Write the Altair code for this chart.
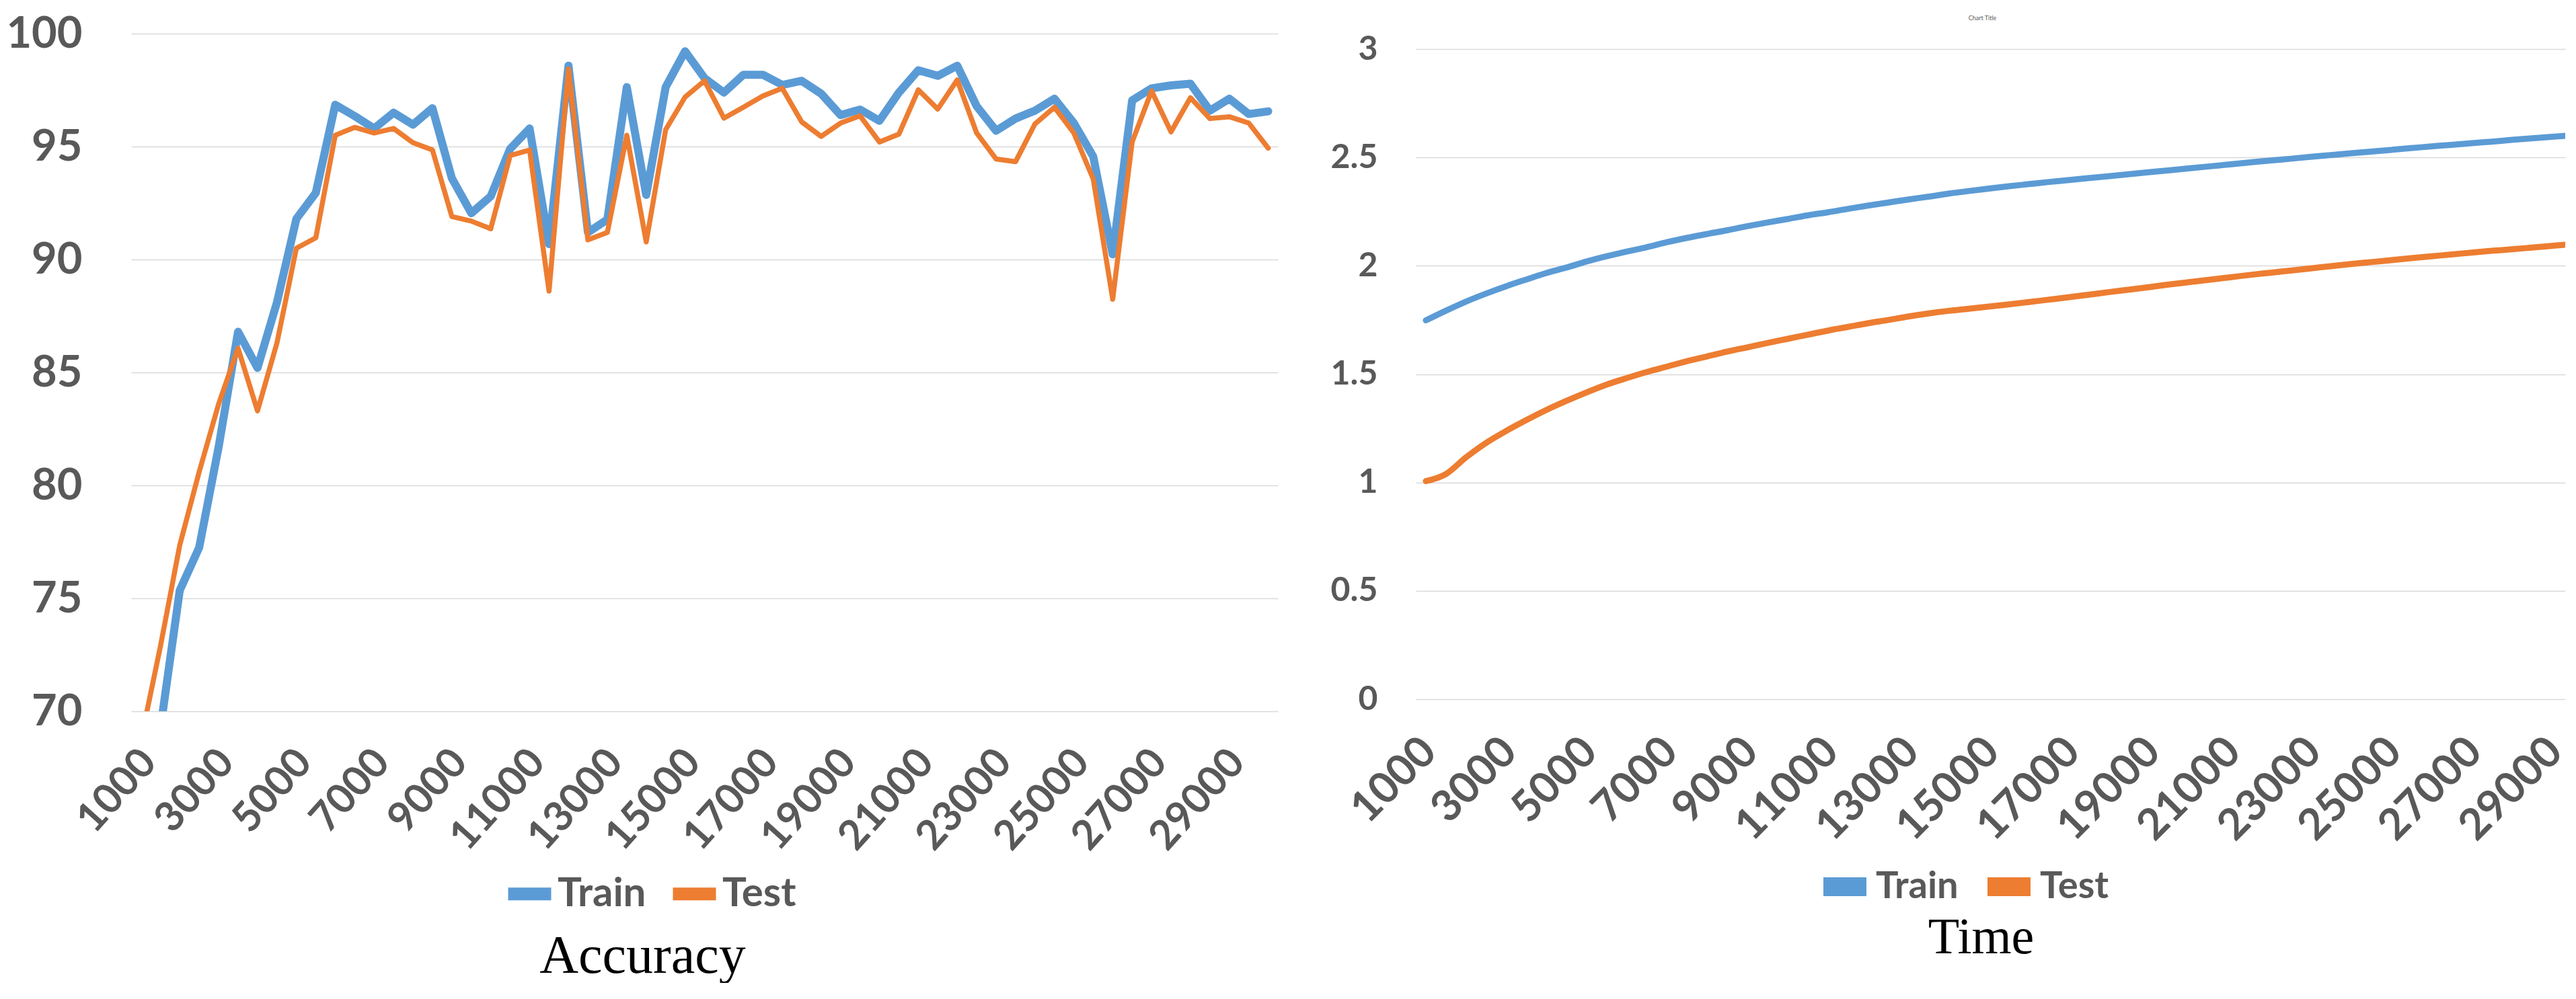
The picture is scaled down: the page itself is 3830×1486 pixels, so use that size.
import altair as alt
import pandas as pd

# ---------------- data ----------------
steps = [1000, 1500, 2000, 2500, 3000, 3500, 4000, 4500, 5000, 5500,
         6000, 6500, 7000, 7500, 8000, 8500, 9000, 9500, 10000, 10500,
         11000, 11500, 12000, 12500, 13000, 13500, 14000, 14500, 15000, 15500,
         16000, 16500, 17000, 17500, 18000, 18500, 19000, 19500, 20000, 20500,
         21000, 21500, 22000, 22500, 23000, 23500, 24000, 24500, 25000, 25500,
         26000, 26500, 27000, 27500, 28000, 28500, 29000, 29500, 30000]

tick_labels = [1000, 3000, 5000, 7000, 9000, 11000, 13000, 15000,
               17000, 19000, 21000, 23000, 25000, 27000, 29000]

series_names = ["Train", "Test"]

acc_train = [66.0, 69.2, 75.35, 77.25, 81.7, 86.8, 85.2, 88.1, 91.8, 92.95,
             96.85, 96.35, 95.8, 96.5, 95.97, 96.7, 93.6, 92.05, 92.8, 94.9,
             95.8, 90.68, 98.58, 91.2, 91.77, 97.63, 92.86, 97.63, 99.22, 98.03,
             97.39, 98.18, 98.18, 97.73, 97.91, 97.34, 96.39, 96.64, 96.14, 97.39,
             98.38, 98.13, 98.58, 96.79, 95.7, 96.24, 96.59, 97.12, 96.04, 94.55,
             90.23, 97.04, 97.58, 97.71, 97.78, 96.59, 97.12, 96.44, 96.56]

acc_test = [68.7, 72.85, 77.35, 80.6, 83.6, 86.07, 83.3, 86.3, 90.5, 90.96,
            95.5, 95.85, 95.6, 95.8, 95.17, 94.85, 91.9, 91.7, 91.36, 94.6,
            94.85, 88.6, 98.43, 90.87, 91.2, 95.5, 90.78, 95.75, 97.19, 97.91,
            96.26, 96.74, 97.24, 97.58, 96.09, 95.45, 96.04, 96.36, 95.2, 95.55,
            97.51, 96.66, 97.95, 95.6, 94.45, 94.33, 96.0, 96.74, 95.6, 93.56,
            88.24, 95.2, 97.46, 95.65, 97.16, 96.24, 96.32, 96.04, 94.93]

time_train = [1.748, 1.793, 1.835, 1.872, 1.906, 1.937, 1.967, 1.992, 2.02, 2.044,
              2.066, 2.086, 2.109, 2.129, 2.147, 2.164, 2.183, 2.2, 2.216, 2.233,
              2.247, 2.263, 2.278, 2.292, 2.306, 2.319, 2.333, 2.345, 2.356, 2.367,
              2.377, 2.387, 2.396, 2.405, 2.414, 2.423, 2.432, 2.441, 2.45, 2.459,
              2.468, 2.477, 2.486, 2.494, 2.503, 2.511, 2.519, 2.527, 2.535, 2.543,
              2.551, 2.558, 2.566, 2.573, 2.581, 2.588, 2.595, 2.602, 2.609]

time_test = [1.006, 1.039, 1.116, 1.183, 1.238, 1.288, 1.335, 1.377, 1.416, 1.452,
             1.482, 1.51, 1.535, 1.56, 1.582, 1.604, 1.624, 1.644, 1.663, 1.682,
             1.701, 1.718, 1.735, 1.75, 1.766, 1.78, 1.792, 1.802, 1.812, 1.822,
             1.833, 1.844, 1.855, 1.867, 1.879, 1.89, 1.902, 1.914, 1.925, 1.936,
             1.947, 1.958, 1.968, 1.978, 1.988, 1.998, 2.008, 2.017, 2.026, 2.035,
             2.044, 2.052, 2.061, 2.069, 2.076, 2.084, 2.092, 2.1, 2.108]

acc_ticks = [70, 75, 80, 85, 90, 95, 100]
time_ticks = [0, 0.5, 1, 1.5, 2, 2.5, 3]

# ---------------- styling ----------------
BLUE = "#5B9BD5"
ORANGE = "#ED7D31"
GRID = "#D9D9D9"
LABEL = "#595959"
FONT = "Lato"
SERIF = "Liberation Serif"

n = len(steps)
acc_df = pd.DataFrame({
    "step": steps + steps,
    "value": acc_train + acc_test,
    "series": ["Train"] * n + ["Test"] * n,
})
time_df = pd.DataFrame({
    "step": steps + steps,
    "value": time_train + time_test,
    "series": ["Train"] * n + ["Test"] * n,
})

color_scale = alt.Scale(domain=series_names, range=[BLUE, ORANGE])

# ---------------- left: Accuracy ----------------
acc_base = alt.Chart(acc_df).mark_line(clip=True, strokeJoin="round", strokeCap="round").encode(
    x=alt.X("step:Q",
            scale=alt.Scale(domain=[750, 30250], nice=False, zero=False),
            axis=alt.Axis(values=tick_labels, format="d", labelAngle=-48,
                          labelAlign="right", labelBaseline="middle",
                          labelFont=FONT, labelFontSize=61, labelFontWeight="bold",
                          labelColor=LABEL, labelPadding=66, labelOffset=12,
                          labelOverlap=False, labelFlush=False, labelLimit=500,
                          grid=False, ticks=False, domain=False,
                          title="Accuracy", titleFont=SERIF, titleFontSize=80,
                          titleFontWeight="normal", titleColor="black",
                          titleX=760, titleY=388, titleAlign="center",
                          titleBaseline="alphabetic", titleAnchor="start")),
    y=alt.Y("value:Q",
            scale=alt.Scale(domain=[70, 100], nice=False, zero=False),
            axis=alt.Axis(values=acc_ticks, labelFont=FONT, labelFontSize=65,
                          labelFontWeight="bold", labelColor=LABEL, labelPadding=73,
                          grid=True, gridColor=GRID, gridWidth=1.5,
                          ticks=False, domain=False, title=None)),
    color=alt.Color("series:N", scale=color_scale,
                    legend=alt.Legend(orient="none", legendX=551, legendY=1238,
                                      direction="horizontal", title=None,
                                      symbolType="stroke", symbolSize=64 * 64,
                                      symbolStrokeWidth=19, labelFont=FONT,
                                      labelFontSize=60, labelFontWeight="bold",
                                      labelColor=LABEL, labelOffset=0,
                                      columnPadding=1, padding=0)),
)
left = alt.layer(
    acc_base.transform_filter(alt.datum.series == "Train").encode(strokeWidth=alt.value(12)),
    acc_base.transform_filter(alt.datum.series == "Test").encode(strokeWidth=alt.value(7.5)),
).properties(width=1705, height=1008)

# ---------------- right: Time ----------------
time_base = alt.Chart(time_df).mark_line(clip=True, interpolate="monotone",
                                         strokeCap="round", strokeJoin="round").encode(
    x=alt.X("step:Q",
            scale=alt.Scale(domain=[750, 29330], nice=False, zero=False),
            axis=alt.Axis(values=tick_labels, format="d", labelAngle=-45,
                          labelAlign="right", labelBaseline="middle",
                          labelFont=FONT, labelFontSize=64, labelFontWeight="bold",
                          labelColor=LABEL, labelPadding=68, labelOffset=5,
                          labelOverlap=False, labelFlush=False, labelLimit=500,
                          grid=False, ticks=False, domain=False,
                          title="Time", titleFont=SERIF, titleFontSize=76,
                          titleFontWeight="normal", titleColor="black",
                          titleX=840, titleY=377, titleAlign="center",
                          titleBaseline="alphabetic", titleAnchor="start")),
    y=alt.Y("value:Q",
            scale=alt.Scale(domain=[0, 3.0714], nice=False, zero=False),
            axis=alt.Axis(values=time_ticks, format="~g", labelFont=FONT,
                          labelFontSize=50, labelFontWeight="bold", labelColor=LABEL,
                          labelPadding=57, grid=True, gridColor=GRID, gridWidth=1.5,
                          ticks=False, domain=False, title=None)),
    color=alt.Color("series:N", scale=color_scale,
                    legend=alt.Legend(orient="none", legendX=592, legendY=1223,
                                      direction="horizontal", title=None,
                                      symbolType="stroke", symbolSize=64 * 64,
                                      symbolStrokeWidth=28, labelFont=FONT,
                                      labelFontSize=56, labelFontWeight="bold",
                                      labelColor=LABEL, labelOffset=0,
                                      columnPadding=-13, padding=0)),
    strokeWidth=alt.value(9),
)
right = alt.layer(
    time_base.transform_filter(alt.datum.series == "Train"),
    time_base.transform_filter(alt.datum.series == "Test"),
).properties(
    width=1709, height=990,
    title=alt.TitleParams("Chart Title", fontSize=9, font=FONT, fontWeight="normal",
                          color=LABEL, anchor="middle", dx=-12, offset=16),
)

chart = alt.hconcat(left, right, spacing=205, bounds="flush").resolve_scale(
    color="independent", x="independent", y="independent"
).resolve_legend(color="independent").configure_view(stroke=None).properties(
    padding={"left": 0, "top": 10, "right": 0, "bottom": 0}
)

chart.save("out.html", embed_options={"renderer": "svg", "actions": False})
